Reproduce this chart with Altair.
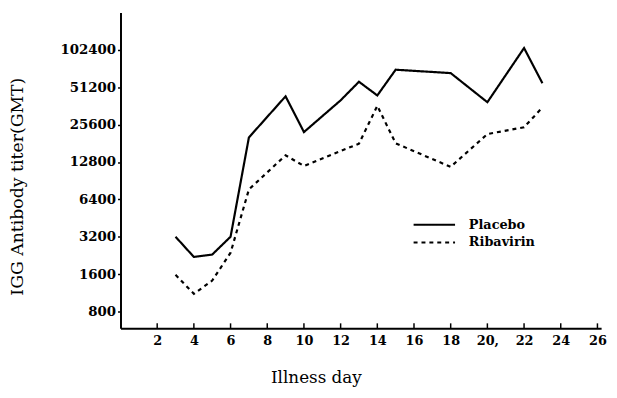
import altair as alt
import pandas as pd

# Data
placebo_days = [3, 4, 5, 6, 7, 9, 10, 12, 13, 14, 15, 18, 20, 22, 23]
placebo_titer = [3200, 2200, 2300, 3200, 20200, 43300, 22300, 40200, 56700, 44000, 70900, 66600, 38800, 106000, 55200]

ribavirin_days = [3, 4, 5, 6, 7, 9, 10, 13, 14, 15, 18, 20, 22, 23]
ribavirin_titer = [1580, 1110, 1420, 2380, 7700, 14500, 11900, 18000, 36300, 18100, 11700, 21500, 24400, 35200]

x_ticks = [2, 4, 6, 8, 10, 12, 14, 16, 18, 20, 22, 24, 26]
y_ticks = [800, 1600, 3200, 6400, 12800, 25600, 51200, 102400]
groups = ["Placebo", "Ribavirin"]

df = pd.concat([
    pd.DataFrame({"day": placebo_days, "titer": placebo_titer, "group": "Placebo"}),
    pd.DataFrame({"day": ribavirin_days, "titer": ribavirin_titer, "group": "Ribavirin"}),
])
ticks_df = pd.DataFrame({"t": x_ticks})

FONT = "DejaVu Serif"

x_scale = alt.Scale(domain=[0, 26.2], nice=False, zero=False)
y_scale = alt.Scale(type="log", base=2, domain=[586, 205000], nice=False)

lines = alt.Chart(df).mark_line(color="black", strokeWidth=2.2).encode(
    x=alt.X("day:Q", scale=x_scale,
            axis=alt.Axis(values=x_ticks, title="Illness day", grid=False,
                          labelExpr="datum.value == 20 ? '20,' : datum.label",
                          labelFont=FONT, labelFontSize=13, labelFontWeight="bold",
                          labelColor="black", labelPadding=6, tickSize=0,
                          domainColor="black", domainWidth=2,
                          titleFont=FONT, titleFontSize=17, titleFontWeight="normal",
                          titleColor="black", titleX=198, titleY=50,
                          titleAlign="center", titleBaseline="middle")),
    y=alt.Y("titer:Q", scale=y_scale,
            axis=alt.Axis(values=y_ticks, title="IGG Antibody titer(GMT)", grid=False,
                          format="d",
                          labelFont=FONT, labelFontSize=13.5, labelFontWeight="bold",
                          labelColor="black", labelPadding=2, tickSize=3,
                          tickColor="black", tickWidth=1.5,
                          domainColor="black", domainWidth=2,
                          titleFont=FONT, titleFontSize=17.5, titleFontWeight="normal",
                          titleColor="black", titleX=-104, titleY=176,
                          titleAlign="center", titleBaseline="middle", titleAngle=-90)),
    strokeDash=alt.StrokeDash("group:N",
                              scale=alt.Scale(domain=groups, range=[[1, 0], [4, 4]]),
                              legend=alt.Legend(title=None, orient="none",
                                                legendX=310, legendY=207,
                                                symbolType="M-3,0H3", symbolSize=196,
                                                symbolStrokeWidth=2, symbolStrokeColor="black",
                                                labelFont=FONT, labelFontSize=13,
                                                labelFontWeight="bold", labelColor="black",
                                                labelOffset=27, rowPadding=3, padding=0)),
)

xticks = alt.Chart(ticks_df).mark_rule(color="black", strokeWidth=1.5).encode(
    x=alt.X("t:Q", scale=x_scale),
    y=alt.value(315),
    y2=alt.value(320),
)

chart = alt.layer(lines, xticks).properties(
    width=487, height=320,
    autosize=alt.AutoSizeParams(type="none"),
    padding={"left": 114, "top": 2, "right": 8, "bottom": 60},
).configure_view(stroke=None)

chart.save("out.html", embed_options={"renderer": "svg", "actions": False})
